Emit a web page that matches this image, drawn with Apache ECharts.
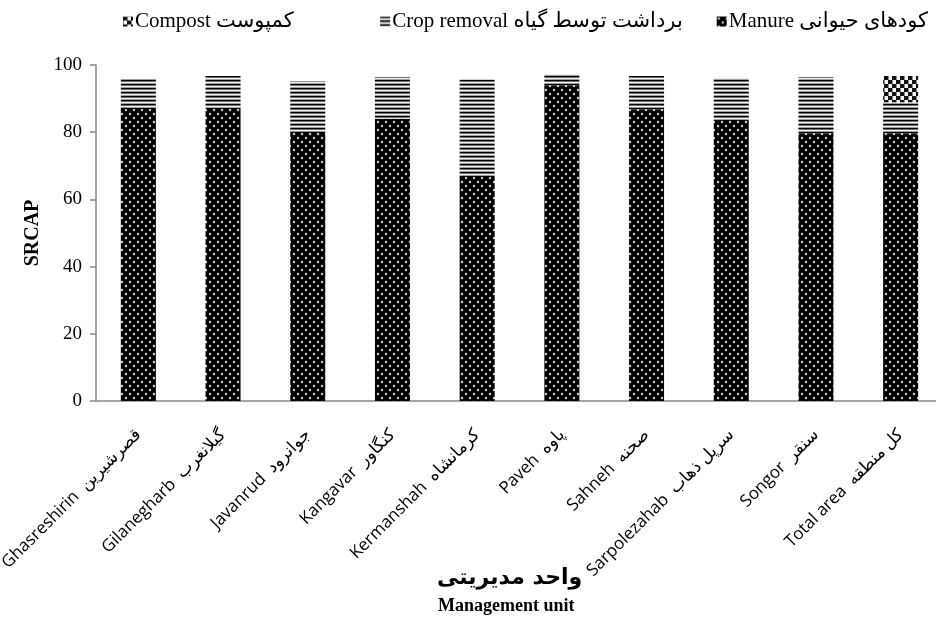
<!DOCTYPE html>
<html><head><meta charset="utf-8">
<script src="https://cdn.jsdelivr.net/npm/echarts@6/dist/echarts.min.js"></script>
<style>html,body{margin:0;padding:0;background:#fff}#c{width:936px;height:621px}</style>
</head><body><div id="c"></div>
<script>
const categories = ['Ghasreshirin  قصرشیرین','Gilanegharb  گیلانغرب','Javanrud  جوانرود','Kangavar  کنگاور','Kermanshah  کرمانشاه','Paveh  پاوه','Sahneh  صحنه','Sarpolezahab  سرپل ذهاب','Songor  سنقر','Total area  کل منطقه'];
const manure = [86.9, 87.3, 80.2, 84.0, 66.7, 94.0, 86.8, 83.6, 79.7, 79.7];
const cropRemoval = [8.9, 9.4, 15.0, 12.4, 29.0, 3.3, 9.9, 12.5, 16.7, 9.2];
const compost = [0, 0, 0, 0, 0, 0, 0, 0, 0, 7.8];
const seriesNames = ['Manure کودهای حیوانی', 'Crop removal برداشت توسط گیاه', 'Compost کمپوست'];
const yTicks = [0, 20, 40, 60, 80, 100];

function pat(w, h, draw) {
  const c = document.createElement('canvas'); c.width = w; c.height = h;
  const g = c.getContext('2d'); draw(g); return {image: c, repeat: 'repeat'};
}
const dotPat = pat(8, 8, g => {
  g.fillStyle = '#000'; g.fillRect(0, 0, 8, 8);
  g.fillStyle = '#d0d0d0';
  g.beginPath(); g.arc(2, 2, 1.2, 0, Math.PI * 2); g.fill();
  g.beginPath(); g.arc(6, 6, 1.2, 0, Math.PI * 2); g.fill();
});
const stripePat = pat(4, 4, g => {
  g.fillStyle = '#000'; g.fillRect(0, 0, 4, 1);
  g.fillStyle = '#6e6e6e'; g.fillRect(0, 1, 4, 1);
  g.fillStyle = '#f0f0f0'; g.fillRect(0, 2, 4, 1);
  g.fillStyle = '#a0a0a0'; g.fillRect(0, 3, 4, 1);
});
const checkPat = pat(8, 8, g => {
  g.fillStyle = '#f4f4f4'; g.fillRect(0, 0, 8, 8);
  g.fillStyle = '#111'; g.fillRect(0, 0, 4, 4); g.fillRect(4, 4, 4, 4);
  g.fillStyle = '#888'; g.fillRect(0, 4, 1, 4); g.fillRect(4, 0, 1, 4);
});

const chart = echarts.init(document.getElementById('c'), null, {renderer: 'canvas'});
const serif = "'Liberation Serif', 'DejaVu Sans', serif";
const sans = "'Open Sans', 'DejaVu Sans', sans-serif";
const axisColor = '#888888';
chart.setOption({
  animation: false,
  backgroundColor: '#fff',
  legend: {
    top: 6, left: 118, width: 900, itemGap: 34, itemWidth: 10, itemHeight: 10,
    icon: 'rect',
    data: [seriesNames[2], seriesNames[1], seriesNames[0]],
    formatter: name => name === seriesNames[2] ? name + '\u2003\u2003\u2002' : name,
    textStyle: {fontFamily: serif, fontSize: 21, color: '#000', padding: [0, 0, 0, -3]}
  },
  grid: {left: 96, top: 65, bottom: 220, right: -7, containLabel: false, outerBoundsMode: 'none'},
  xAxis: {
    type: 'category', data: categories,
    axisLine: {lineStyle: {color: axisColor, width: 1.5}},
    axisTick: {length: 6, lineStyle: {color: axisColor, width: 1.5}},
    axisLabel: {rotate: 45, interval: 0, fontFamily: sans, fontSize: 17, color: '#000', margin: 31}
  },
  yAxis: {
    type: 'value', min: 0, max: 100, interval: 20,
    name: 'SRCAP', nameLocation: 'middle', nameGap: 48,
    nameTextStyle: {fontFamily: serif, fontWeight: 'bold', fontSize: 20, color: '#000'},
    axisLine: {show: true, lineStyle: {color: axisColor, width: 1.5}},
    axisTick: {show: true, length: 6, lineStyle: {color: axisColor, width: 1.5}},
    splitLine: {show: false},
    axisLabel: {fontFamily: serif, fontSize: 19, color: '#000', margin: 14,
      formatter: v => yTicks.includes(v) ? String(v) : ''}
  },
  graphic: [
    {type: 'text', left: 437, top: 567, style: {text: 'واحد مدیریتی', font: "bold 22px 'DejaVu Sans', 'Liberation Serif', serif", fill: '#000'}},
    {type: 'text', left: 438, top: 597, style: {text: 'Management unit', font: "bold 18px 'Liberation Serif', serif", fill: '#000'}}
  ],
  series: [
    {name: seriesNames[0], type: 'bar', stack: 's', data: manure, barWidth: 35, itemStyle: {color: dotPat}},
    {name: seriesNames[1], type: 'bar', stack: 's', data: cropRemoval, barWidth: 35, itemStyle: {color: stripePat}},
    {name: seriesNames[2], type: 'bar', stack: 's', data: compost, barWidth: 35, itemStyle: {color: checkPat}}
  ]
});
</script></body></html>
